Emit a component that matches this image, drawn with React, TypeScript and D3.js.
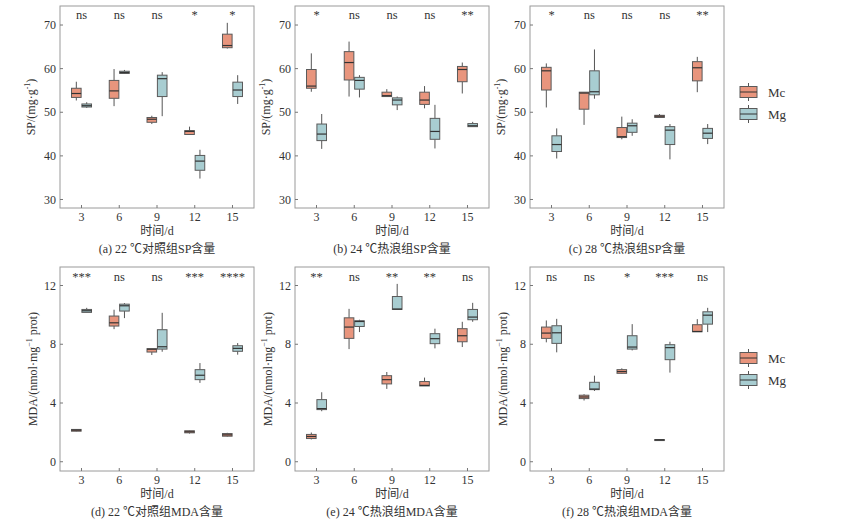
import React, { useEffect, useRef } from 'react';
import * as d3 from 'd3';

// days on the x axis
const days = [3, 6, 9, 12, 15];
const groups = ['Mc', 'Mg'];

// each box: [min, q1, median, q3, max]
type Box = [number, number, number, number, number];

// SP content, mg·g-1
const sp22Mc: Box[] = [[52.7, 53.4, 54.3, 55.5, 57.0], [51.4, 53.2, 54.9, 57.3, 59.9], [47.3, 47.7, 48.4, 48.8, 49.2], [44.9, 44.9, 45.6, 45.8, 46.7], [64.6, 64.8, 65.3, 67.9, 70.5]];
const sp22Mg: Box[] = [[51.0, 51.2, 51.5, 51.9, 52.3], [58.8, 58.9, 59.1, 59.4, 59.7], [49.1, 53.6, 57.7, 58.5, 59.2], [34.8, 36.7, 38.8, 40.1, 41.4], [51.9, 53.6, 55.1, 56.9, 58.5]];
const sp24Mc: Box[] = [[54.7, 55.5, 56.0, 59.8, 63.5], [53.6, 57.4, 61.4, 63.9, 66.2], [53.6, 53.6, 53.8, 54.6, 55.3], [50.9, 51.8, 52.8, 54.6, 56.0], [54.3, 57.0, 59.8, 60.5, 61.4]];
const sp24Mg: Box[] = [[41.6, 43.5, 45.0, 47.3, 49.6], [53.4, 55.3, 57.3, 58.0, 58.5], [50.5, 51.7, 52.8, 53.3, 53.6], [41.7, 43.8, 45.6, 48.6, 51.7], [46.7, 46.7, 46.9, 47.4, 47.8]];
const sp28Mc: Box[] = [[51.1, 55.1, 59.5, 60.3, 61.2], [47.1, 50.7, 54.4, 54.6, 54.6], [43.8, 44.2, 44.4, 46.5, 49.0], [48.8, 48.8, 49.1, 49.3, 49.6], [54.6, 57.2, 60.2, 61.6, 62.7]];
const sp28Mg: Box[] = [[39.4, 41.0, 42.6, 44.6, 46.3], [53.1, 54.0, 54.7, 59.5, 64.4], [44.6, 45.4, 46.9, 47.5, 48.4], [39.2, 42.6, 45.9, 46.7, 47.3], [42.7, 44.0, 45.2, 46.3, 47.3]];

// MDA content, nmol·mg-1 prot
const mda22Mc: Box[] = [[2.06, 2.08, 2.15, 2.2, 2.22], [9.03, 9.24, 9.46, 9.92, 10.35], [7.27, 7.47, 7.66, 7.7, 7.7], [1.92, 1.97, 2.04, 2.11, 2.13], [1.7, 1.74, 1.83, 1.92, 1.97]];
const mda22Mg: Box[] = [[10.16, 10.17, 10.28, 10.37, 10.48], [9.78, 10.26, 10.62, 10.73, 10.8], [7.49, 7.67, 7.83, 8.99, 10.14], [5.37, 5.59, 5.89, 6.27, 6.72], [7.29, 7.52, 7.72, 7.9, 8.08]];
const mda24Mc: Box[] = [[1.52, 1.58, 1.72, 1.86, 1.99], [7.67, 8.4, 9.17, 9.8, 10.41], [4.96, 5.3, 5.59, 5.86, 6.11], [5.16, 5.16, 5.2, 5.46, 5.73], [7.81, 8.17, 8.58, 9.06, 9.53]];
const mda24Mg: Box[] = [[3.44, 3.55, 3.62, 4.23, 4.73], [8.83, 9.21, 9.55, 9.6, 9.67], [10.37, 10.37, 10.4, 11.25, 12.11], [7.72, 8.04, 8.38, 8.72, 9.06], [9.53, 9.67, 9.85, 10.37, 10.82]];
const mda28Mc: Box[] = [[8.13, 8.4, 8.76, 9.17, 9.62], [4.17, 4.3, 4.41, 4.53, 4.6], [5.98, 6.02, 6.14, 6.27, 6.36], [1.45, 1.47, 1.49, 1.51, 1.52], [8.85, 8.85, 8.87, 9.33, 9.71]];
const mda28Mg: Box[] = [[7.45, 8.06, 8.78, 9.26, 9.73], [4.82, 4.91, 4.95, 5.41, 5.86], [7.58, 7.67, 7.81, 8.58, 9.37], [6.07, 6.95, 7.77, 7.97, 8.17], [8.83, 9.37, 9.98, 10.21, 10.48]];

// significance marks
const sigSp22 = ['ns', 'ns', 'ns', '*', '*'];
const sigSp24 = ['*', 'ns', 'ns', 'ns', '**'];
const sigSp28 = ['*', 'ns', 'ns', 'ns', '**'];
const sigMda22 = ['***', 'ns', 'ns', '***', '****'];
const sigMda24 = ['**', 'ns', '**', '**', 'ns'];
const sigMda28 = ['ns', 'ns', '*', '***', 'ns'];

// axis ticks
const spTicks = [30, 40, 50, 60, 70];
const mdaTicks = [0, 4, 8, 12];

const captions = [
  '(a) 22 ℃对照组SP含量', '(b) 24 ℃热浪组SP含量', '(c) 28 ℃热浪组SP含量',
  '(d) 22 ℃对照组MDA含量', '(e) 24 ℃热浪组MDA含量', '(f) 28 ℃热浪组MDA含量',
];

const colors: Record<string, string> = { Mc: '#E8957D', Mg: '#A8CDD1' };
const FONT = "'Liberation Serif', 'Noto Sans CJK SC', serif";

const App = () => {
  const svgRef = useRef<SVGSVGElement | null>(null);

  useEffect(() => {
    if (!svgRef.current) return;
    const svg = d3.select(svgRef.current);
    svg.selectAll('*').remove();

    const lefts = [60, 295, 530];
    const width = 194;
    const rows = [
      { top: 6, height: 202, domain: [28.05, 74.36], ticks: spTicks, label: 'SP', legendY: 92 },
      { top: 267, height: 204, domain: [-0.63, 13.26], ticks: mdaTicks, label: 'MDA', legendY: 358 },
    ];
    const panels = [
      { row: 0, col: 0, mc: sp22Mc, mg: sp22Mg, sig: sigSp22 },
      { row: 0, col: 1, mc: sp24Mc, mg: sp24Mg, sig: sigSp24 },
      { row: 0, col: 2, mc: sp28Mc, mg: sp28Mg, sig: sigSp28 },
      { row: 1, col: 0, mc: mda22Mc, mg: mda22Mg, sig: sigMda22 },
      { row: 1, col: 1, mc: mda24Mc, mg: mda24Mg, sig: sigMda24 },
      { row: 1, col: 2, mc: mda28Mc, mg: mda28Mg, sig: sigMda28 },
    ];

    const boxW = 9.6;
    const offsets = [-5.2, 5.2];

    panels.forEach((p, pi) => {
      const r = rows[p.row];
      const left = lefts[p.col];
      const g = svg.append('g').attr('transform', `translate(${left},${r.top})`);

      const x = d3.scalePoint<number>().domain(days).range([0, width]).padding(0.57);
      const y = d3.scaleLinear().domain(r.domain).range([r.height, 0]);

      // frame
      g.append('rect')
        .attr('width', width).attr('height', r.height)
        .attr('fill', 'none').attr('stroke', '#9a9a9a').attr('stroke-width', 1);

      // x ticks (inward) + labels
      days.forEach(d => {
        g.append('line')
          .attr('x1', x(d)!).attr('x2', x(d)!)
          .attr('y1', r.height).attr('y2', r.height - 3)
          .attr('stroke', '#777');
        g.append('text')
          .attr('x', x(d)!).attr('y', r.height + 13)
          .attr('text-anchor', 'middle')
          .style('font-family', FONT).style('font-size', '12px').attr('fill', '#333')
          .text(d);
      });

      // y ticks + labels
      r.ticks.forEach(t => {
        g.append('line')
          .attr('x1', 0).attr('x2', 3)
          .attr('y1', y(t)).attr('y2', y(t))
          .attr('stroke', '#777');
        g.append('text')
          .attr('x', -4).attr('y', y(t)).attr('dy', '0.35em')
          .attr('text-anchor', 'end')
          .style('font-family', FONT).style('font-size', '12px').attr('fill', '#333')
          .text(t);
      });

      // y axis title
      const yt = g.append('text')
        .attr('transform', `translate(${p.row === 0 ? -25 : -23},${r.height / 2}) rotate(-90)`)
        .attr('text-anchor', 'middle')
        .style('font-family', FONT).style('font-size', '12px').attr('fill', '#333');
      if (p.row === 0) {
        yt.append('tspan').text('SP/(mg·g');
        yt.append('tspan').attr('dy', -5).style('font-size', '8px').text('-1');
        yt.append('tspan').attr('dy', 5).text(')');
      } else {
        yt.append('tspan').text('MDA/(nmol·mg');
        yt.append('tspan').attr('dy', -5).style('font-size', '8px').text('−1');
        yt.append('tspan').attr('dy', 5).text(' prot)');
      }

      // x axis title and caption
      g.append('text')
        .attr('x', width / 2).attr('y', r.height + 27)
        .attr('text-anchor', 'middle')
        .style('font-family', FONT).style('font-size', '12px').attr('fill', '#333')
        .text('时间/d');
      g.append('text')
        .attr('x', width / 2).attr('y', r.height + 45)
        .attr('text-anchor', 'middle')
        .style('font-family', FONT).style('font-size', '12px').attr('fill', '#333')
        .text(captions[pi]);

      // boxes
      [p.mc, p.mg].forEach((series, si) => {
        series.forEach((b, i) => {
          const cx = x(days[i])! + offsets[si];
          const [mn, q1, md, q3, mx] = b;
          g.append('line')
            .attr('x1', cx).attr('x2', cx).attr('y1', y(mx)).attr('y2', y(q3))
            .attr('stroke', '#555').attr('stroke-width', 1);
          g.append('line')
            .attr('x1', cx).attr('x2', cx).attr('y1', y(q1)).attr('y2', y(mn))
            .attr('stroke', '#555').attr('stroke-width', 1);
          g.append('rect')
            .attr('x', cx - boxW / 2).attr('y', y(q3))
            .attr('width', boxW).attr('height', Math.max(1, y(q1) - y(q3)))
            .attr('fill', colors[groups[si]])
            .attr('stroke', '#5a5a5a').attr('stroke-width', 1);
          g.append('line')
            .attr('x1', cx - boxW / 2).attr('x2', cx + boxW / 2)
            .attr('y1', y(md)).attr('y2', y(md))
            .attr('stroke', '#333').attr('stroke-width', 1.2);
        });
      });

      // significance
      p.sig.forEach((s, i) => {
        g.append('text')
          .attr('x', x(days[i])!).attr('y', p.row === 0 ? 12.5 : 13.5)
          .attr('text-anchor', 'middle')
          .style('font-family', FONT).style('font-size', '12.5px').attr('fill', '#333')
          .text(s);
      });
    });

    // legends
    rows.forEach(r => {
      const lg = svg.append('g').attr('transform', `translate(740,${r.legendY})`);
      groups.forEach((grp, i) => {
        const cy = i * 22;
        const lw = 17;
        lg.append('line')
          .attr('x1', lw / 2).attr('x2', lw / 2).attr('y1', cy - 9).attr('y2', cy + 9)
          .attr('stroke', '#555');
        lg.append('rect')
          .attr('x', 0).attr('y', cy - 5.5).attr('width', lw).attr('height', 11)
          .attr('fill', colors[grp]).attr('stroke', '#5a5a5a');
        lg.append('line')
          .attr('x1', 0).attr('x2', lw).attr('y1', cy).attr('y2', cy)
          .attr('stroke', '#333');
        lg.append('text')
          .attr('x', 28).attr('y', cy).attr('dy', '0.35em')
          .style('font-family', FONT).style('font-size', '13px').attr('fill', '#333')
          .text(grp);
      });
    });
  }, []);

  return (
    <div style={{ position: 'absolute', left: 0, top: 0 }}>
      <svg ref={svgRef} width={843} height={529} style={{ display: 'block', background: '#fff' }}></svg>
    </div>
  );
};

export default App;
